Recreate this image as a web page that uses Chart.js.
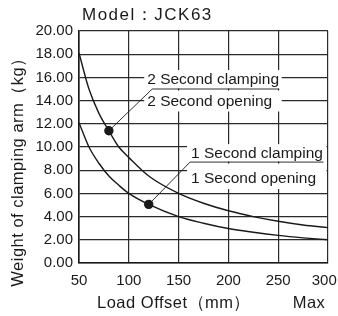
<!DOCTYPE html>
<html>
<head>
<meta charset="utf-8">
<script src="https://cdn.jsdelivr.net/npm/chart.js@4.4.0/dist/chart.umd.min.js"></script>
<style>
  html, body { margin: 0; padding: 0; background: #fff; }
  #wrap { width: 338px; height: 316px; }
</style>
</head>
<body>
<div id="wrap"><canvas id="chart" width="338" height="316"></canvas></div>
<script>
// Load offset (mm) sample points
const offsets = [50, 60, 70, 80, 90, 100, 120, 150, 175, 200, 225, 250, 275, 300];
// 2 second curve (upper)
const twoSecond = [18.1, 15.0, 12.9, 11.4, 10.0, 9.1, 7.5, 6.0, 5.15, 4.5, 4.0, 3.6, 3.28, 3.05];
// 1 second curve (lower)
const oneSecond = [12.1, 10.0, 8.6, 7.5, 6.7, 6.0, 5.05, 4.0, 3.43, 2.97, 2.65, 2.38, 2.17, 2.0];

// which sample carries the callout dot
const twoSecondDot = 3;   // x = 80
const oneSecondDot = 6;   // x = 120

// callouts: dot -> elbow -> end of underline, in data units
const callouts = [
    { from: [80, 11.4], elbow: [123.5, 15.0], end: [250.5, 15.0], textX: 118.5,
      top: '2 Second clamping', bottom: '2 Second opening', dyTop: -9, dyBottom: 12.5 },
    { from: [120, 5.05], elbow: [161.5, 8.7], end: [295.5, 8.7], textX: 162.5,
      top: '1 Second clamping', bottom: '1 Second opening', dyTop: -8, dyBottom: 17 }
];

const FONT = "'Liberation Sans', Arial, sans-serif";
const INK = '#1a1a1a';

const toPoints = (ys) => offsets.map((x, i) => ({ x: x, y: ys[i] }));

const overlay = {
    id: 'overlay',
    afterDatasetsDraw(chart) {
        const ctx = chart.ctx;
        const xs = chart.scales.x, ys = chart.scales.y;
        ctx.save();
        ctx.font = '15.5px ' + FONT;
        ctx.textBaseline = 'middle';
        callouts.forEach(c => {
            const ex = xs.getPixelForValue(c.elbow[0]);
            const ey = ys.getPixelForValue(c.elbow[1]);
            const endX = xs.getPixelForValue(c.end[0]);
            const tx = xs.getPixelForValue(c.textX);
            const left = Math.min(ex, tx) - 3;
            // white boxes behind the labels hide the grid
            ctx.fillStyle = '#fff';
            ctx.fillRect(left, ey + c.dyTop - 10, endX - left + 3, 9.5 - c.dyTop);
            ctx.fillRect(left, ey + 1.5, endX - left + 3, c.dyBottom + 8.5);
            ctx.fillStyle = INK;
            ctx.textAlign = 'left';
            ctx.fillText(c.top, tx, ey + c.dyTop);
            ctx.fillText(c.bottom, tx, ey + c.dyBottom);
            // leader line + underline
            ctx.strokeStyle = INK;
            ctx.lineWidth = 0.9;
            ctx.beginPath();
            ctx.moveTo(xs.getPixelForValue(c.from[0]), ys.getPixelForValue(c.from[1]));
            ctx.lineTo(ex, ey);
            ctx.lineTo(endX, ey);
            ctx.stroke();
        });
        ctx.restore();
    },
    afterDraw(chart) {
        const ctx = chart.ctx;
        const area = chart.chartArea;
        ctx.save();
        ctx.fillStyle = INK;
        ctx.textBaseline = 'middle';
        ctx.font = '17px ' + FONT;
        ctx.textAlign = 'left';
        ctx.letterSpacing = '1.5px';
        ctx.fillText('Model：JCK63', area.left + 3, 15);
        ctx.font = '16.5px ' + FONT;
        ctx.letterSpacing = '0.5px';
        ctx.textAlign = 'center';
        ctx.fillText('Load Offset（mm）', 174, 303);
        ctx.fillText('Max', 309, 303);
        ctx.translate(18, 168);
        ctx.rotate(-Math.PI / 2);
        ctx.fillText('Weight of clamping arm（kg）', 0, 0);
        ctx.restore();
    }
};

const lineStyle = (dotIndex) => ({
    borderColor: INK,
    backgroundColor: INK,
    borderWidth: 1.4,
    fill: false,
    cubicInterpolationMode: 'monotone',
    pointRadius: offsets.map((_, i) => i === dotIndex ? 4 : 0),
    pointHoverRadius: 0
});

new Chart(document.getElementById('chart').getContext('2d'), {
    type: 'line',
    data: {
        datasets: [
            Object.assign({ label: '2 Second', data: toPoints(twoSecond) }, lineStyle(twoSecondDot)),
            Object.assign({ label: '1 Second', data: toPoints(oneSecond) }, lineStyle(oneSecondDot))
        ]
    },
    options: {
        responsive: false,
        animation: false,
        layout: { padding: { top: 31, right: 10, left: 0, bottom: 0 } },
        plugins: {
            legend: { display: false },
            tooltip: { enabled: false }
        },
        scales: {
            x: {
                type: 'linear',
                min: 50,
                max: 300,
                grid: { color: '#2a2a2a', lineWidth: 1.2, drawTicks: false },
                border: { color: INK, width: 1.6 },
                ticks: {
                    stepSize: 50,
                    color: INK,
                    padding: 9,
                    font: { family: FONT, size: 15 },
                    // trailing en space nudges the last label back inside the canvas
                    callback: (v) => v === 300 ? '300\u2002' : String(v)
                },
                // keep the plot edge fixed even though "300" overhangs it
                afterFit: (s) => { s.height = 53; s.paddingLeft = 0; s.paddingRight = 0; }
            },
            y: {
                min: 0,
                max: 20,
                grid: { color: '#2a2a2a', lineWidth: 1.2, drawTicks: false },
                border: { color: INK, width: 1.6 },
                ticks: {
                    stepSize: 2,
                    color: INK,
                    padding: 6,
                    font: { family: FONT, size: 15 },
                    callback: (v) => v.toFixed(2)
                },
                afterFit: (s) => { s.width = 79; s.paddingTop = 0; s.paddingBottom = 0; }
            }
        }
    },
    plugins: [overlay]
});
</script>
</body>
</html>
